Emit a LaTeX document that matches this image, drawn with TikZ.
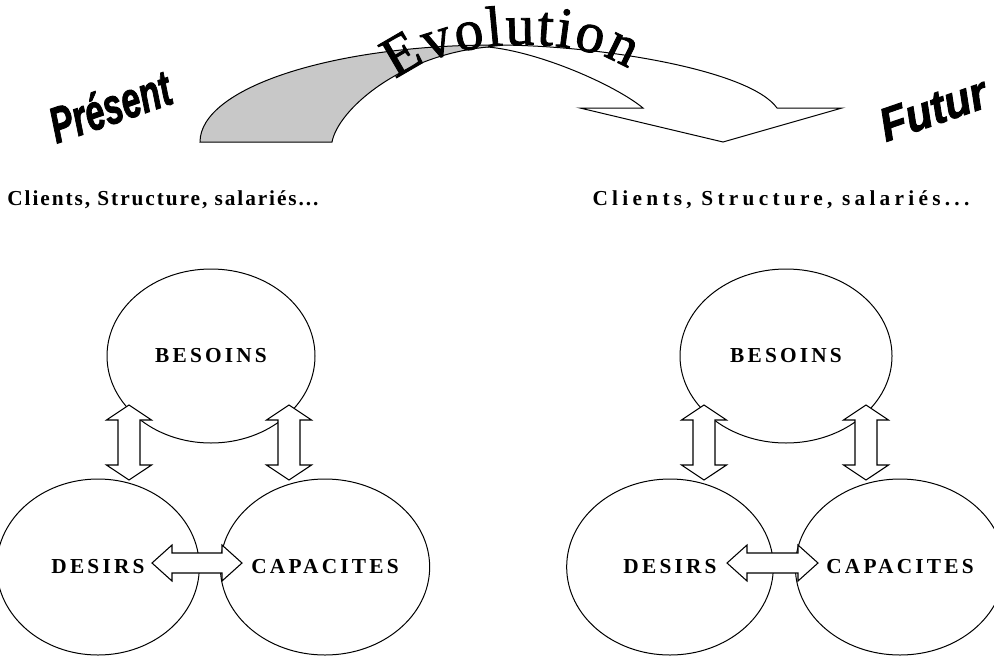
\documentclass[tikz,border=0pt]{standalone}
\usepackage{fontspec}
\setmainfont{Liberation Serif}
\newfontfamily\tagfont[BoldItalicFeatures={FakeBold=2}]{Liberation Sans}
\newfontfamily\evofont[FakeBold=1.5]{Liberation Serif}
\usepackage{tikz}
\usetikzlibrary{shapes.geometric, calc, decorations.text}
\definecolor{arcgrey}{RGB}{200,200,200}

\newcommand{\blockarrow}[5]{%
  \draw[blockarr] (#1) -- ($(#1)!#3!(#2)!#4!90:(#2)$) -- ($(#1)!#3!(#2)!#5!90:(#2)$)
    -- ($(#2)!#3!(#1)!#5!-90:(#1)$) -- ($(#2)!#3!(#1)!#4!-90:(#1)$) -- (#2)
    -- ($(#2)!#3!(#1)!#4!90:(#1)$) -- ($(#2)!#3!(#1)!#5!90:(#1)$)
    -- ($(#1)!#3!(#2)!#5!-90:(#2)$) -- ($(#1)!#3!(#2)!#4!-90:(#2)$) -- cycle;}

\begin{document}
\begin{tikzpicture}[
  x=0.75pt, y=-0.75pt, line width=0.75pt,
  bubble/.style={draw, ellipse, inner sep=0pt, font=\bfseries\addfontfeature{LetterSpace=15}\fontsize{16}{18}\selectfont},
  blockarr/.style={draw, fill=white, line width=0.8pt},
  ctx/.style={font=\bfseries\addfontfeature{LetterSpace=#1}\fontsize{16}{18}\selectfont},
  tag/.style={font=\tagfont\bfseries\itshape\fontsize{27}{30}\selectfont, rotate=19, transform shape, inner sep=0pt}
]
  \useasboundingbox (0,0) rectangle (994,657);
  \clip (0,0) rectangle (994,657);

  \draw[fill=white] (488,47) .. controls (540,52) and (615,85) .. (643,108) -- (580,108) -- (723,142)
    -- (842,108) -- (777,108) .. controls (750,70) and (600,45) .. (495,45) -- cycle;
  \draw[fill=arcgrey] (200,142) -- (332,142) .. controls (338,110) and (400,55) .. (488,47)
    -- (495,45) .. controls (332,45) and (200,88) .. (200,142) -- cycle;
  \path[decorate, decoration={text along path, text align={fit to path},
    text={|\evofont\fontsize{43}{46}\selectfont|Evolution}}]
    (396,80) .. controls (446,37) and (578,33) .. (628,69);

  \node[tag, yscale=1.4, xscale=0.95] (present) at (110,106) {Présent};
  \node[tag, yscale=1.3, xscale=1.2] (futur) at (933,109) {Futur};

  \node[ctx=9] (ctxL) at (163,200) {Clients, Structure, salariés...};
  \node[ctx=20] (ctxR) at (781,200) {Clients, Structure, salariés...};

  \node[bubble, minimum width=156pt, minimum height=130.5pt] (besL) at (211,356) {BESOINS};
  \node[bubble, minimum width=152pt, minimum height=132pt] (desL) at (98,567) {DESIRS};
  \node[bubble, minimum width=157pt, minimum height=132pt] (capL) at (325,567) {CAPACITES};

  \node[bubble, minimum width=159pt, minimum height=130.5pt] (besR) at (786,356) {BESOINS};
  \node[bubble, minimum width=155pt, minimum height=132pt] (desR) at (670,567) {DESIRS};
  \node[bubble, minimum width=157pt, minimum height=132pt] (capR) at (900,567) {CAPACITES};

  \coordinate (l1t) at (129,405); \coordinate (l1b) at (129,480);
  \coordinate (l2t) at (289,405); \coordinate (l2b) at (289,480);
  \coordinate (l3l) at (152,563); \coordinate (l3r) at (242,563);
  \coordinate (r1t) at (704,405); \coordinate (r1b) at (704,480);
  \coordinate (r2t) at (866,405); \coordinate (r2b) at (866,480);
  \coordinate (r3l) at (727,563); \coordinate (r3r) at (818,563);

  \blockarrow{l1t}{l1b}{11.25pt}{16.9pt}{8.25pt}
  \blockarrow{l2t}{l2b}{11.25pt}{16.9pt}{8.25pt}
  \blockarrow{l3l}{l3r}{15pt}{13.5pt}{7.5pt}
  \blockarrow{r1t}{r1b}{11.25pt}{16.9pt}{8.25pt}
  \blockarrow{r2t}{r2b}{11.25pt}{16.9pt}{8.25pt}
  \blockarrow{r3l}{r3r}{15pt}{13.5pt}{7.5pt}
\end{tikzpicture}
\end{document}
